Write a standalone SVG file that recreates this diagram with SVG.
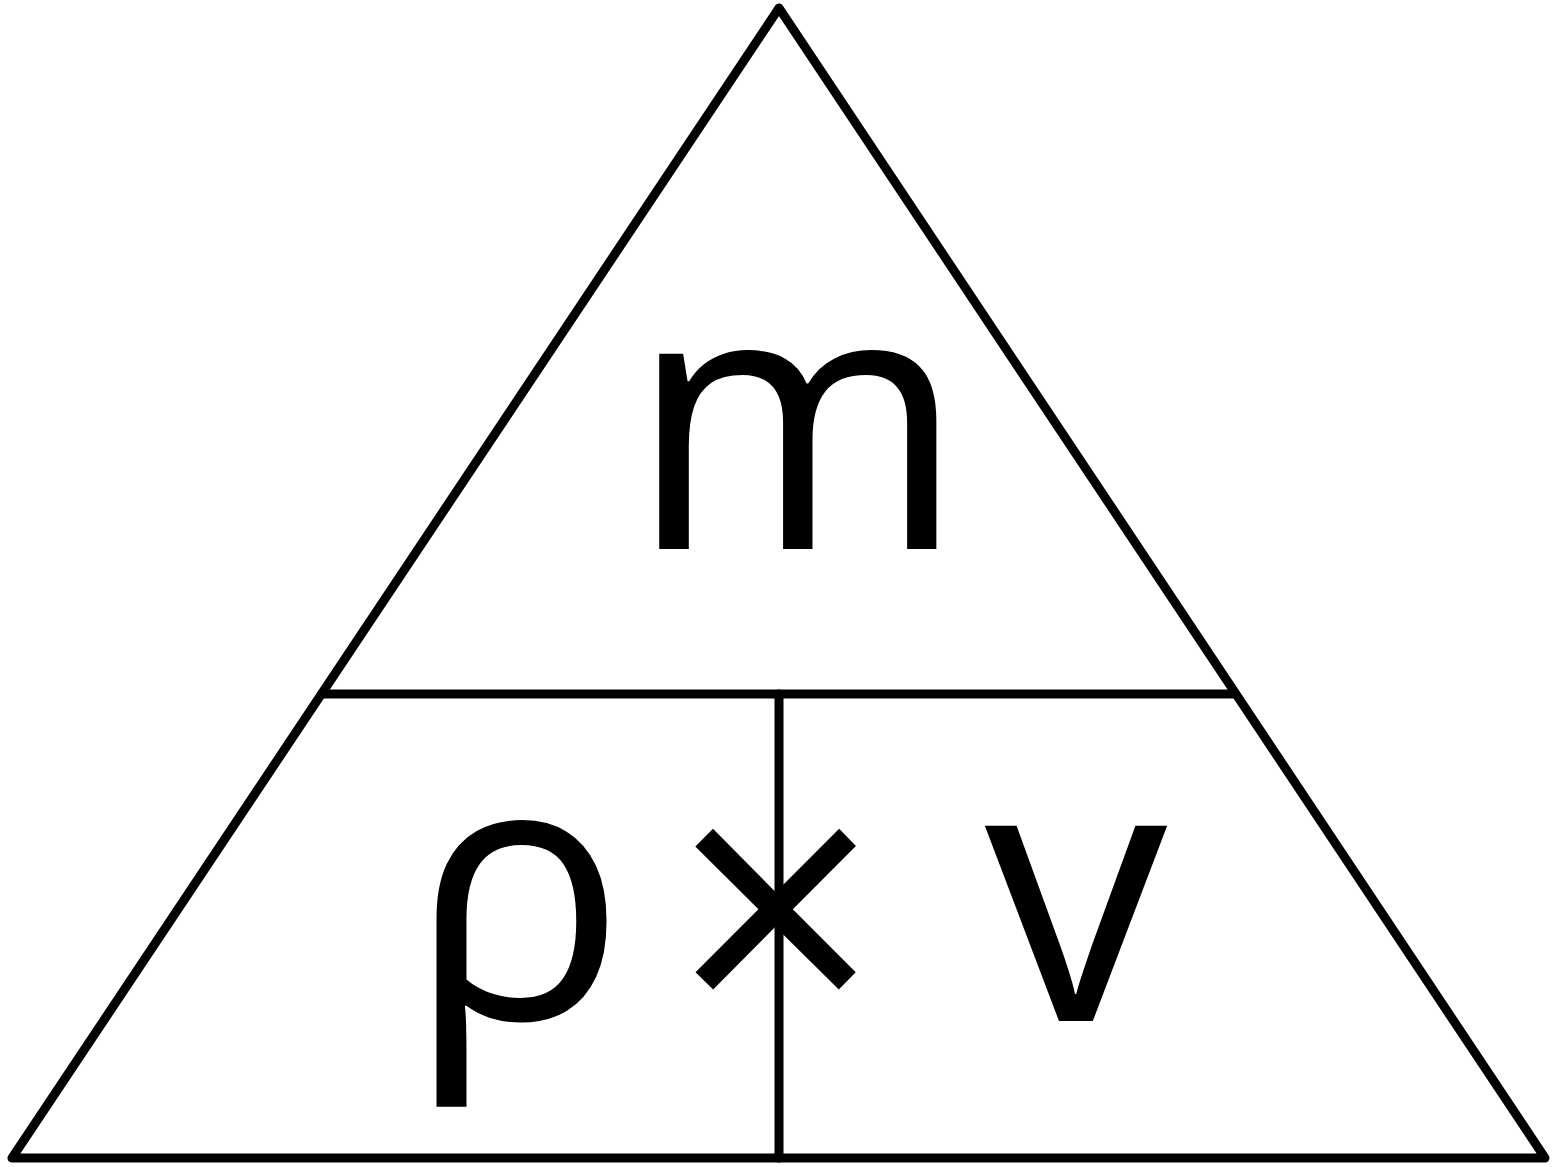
<svg xmlns="http://www.w3.org/2000/svg" width="1557" height="1167" viewBox="0 0 1557 1167">
<style>
.ln{fill:none;stroke:#000;stroke-width:9;stroke-linejoin:round;stroke-linecap:round}
.t{font-family:"Open Sans","Noto Sans",sans-serif;font-size:365px;fill:#000;text-anchor:middle}
</style>
<rect width="1557" height="1167" fill="#fff"/>
<g id="connectors">
<polygon class="ln" points="779,8 12,1158 1545,1158"/>
<line class="ln" x1="322" y1="694" x2="1234" y2="694"/>
<line class="ln" x1="779" y1="694" x2="779" y2="1158"/>
</g>
<g id="node-m"><text class="t" x="797" y="549">m</text></g>
<g id="node-rho"><text class="t" x="517" y="1019">ρ</text></g>
<g id="node-times"><text class="t" x="776" y="1038">×</text></g>
<g id="node-v"><text class="t" x="1076" y="1021">v</text></g>
</svg>
